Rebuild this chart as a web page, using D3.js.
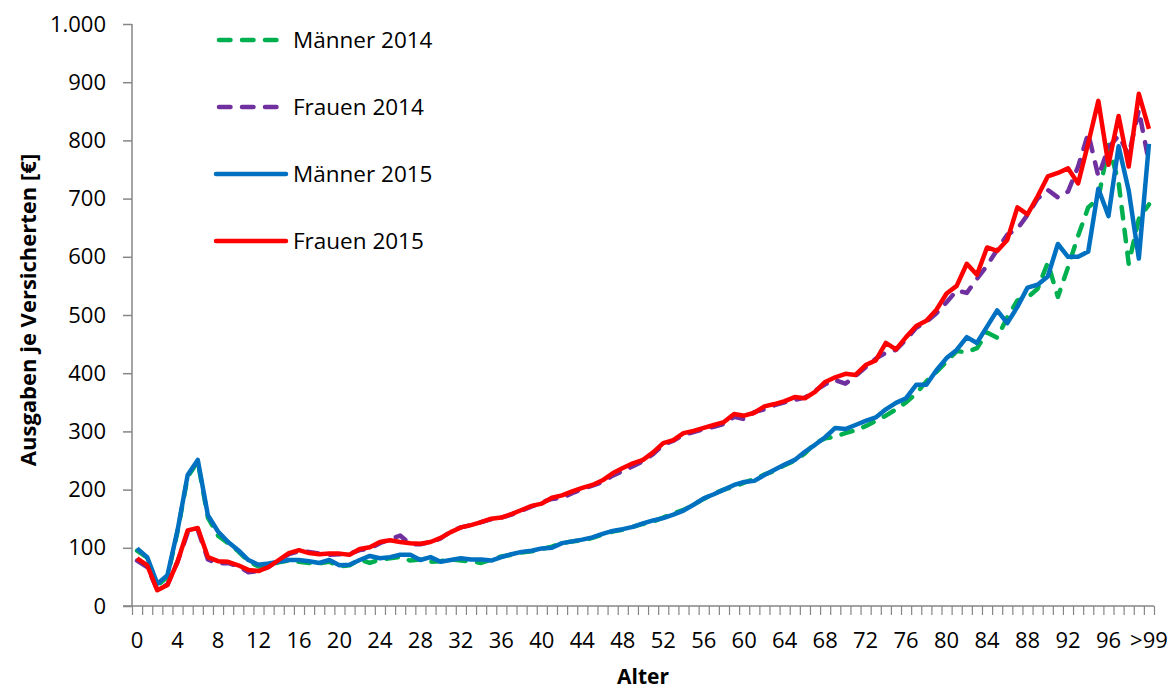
<!DOCTYPE html>
<html>
<head>
<meta charset="utf-8">
<script src="https://cdn.jsdelivr.net/npm/d3@7"></script>
<style>
  body { margin: 0; background: #fff; }
  svg { display: block; font-family: "Open Sans", sans-serif; }
</style>
</head>
<body>
<svg width="1170" height="690"></svg>
<script>
// categories: age 0..99 and ">99"
const ages = d3.range(100).map(String).concat([">99"]);
const yTicks = d3.range(0, 1001, 100);

const maenner2014 = [95,83,35,50,128,222,248,152,121,108,94,77,68,71,75,78,76,74,73,76,
  68,70,80,74,80,82,84,78,80,76,77,80,78,77,74,80,85,88,92,94,
  98,102,108,111,113,117,123,128,131,136,141,145,152,159,165,174,184,193,200,205,
  212,218,226,232,242,250,262,280,288,291,297,302,309,318,327,338,350,365,386,402,
  420,438,436,443,470,461,496,525,530,545,590,531,582,636,685,700,792,728,588,665,690];

const frauen2014 = [78,67,28,37,76,126,131,80,73,74,68,58,60,67,79,89,94,93,90,88,
  89,90,96,99,108,115,121,106,106,110,116,128,135,139,144,149,152,157,164,171,
  178,184,186,194,201,207,213,224,232,240,249,261,277,284,294,299,304,308,313,325,
  321,333,338,345,350,354,358,370,381,388,382,395,410,425,435,440,458,478,488,503,
  522,542,538,562,585,612,638,648,672,700,715,702,712,755,812,738,788,808,775,852,762];

const maenner2015 = [99,84,38,53,130,225,251,156,128,110,96,79,71,73,76,79,79,77,74,79,
  70,71,79,86,82,84,88,88,79,84,76,79,82,80,80,78,84,89,93,95,
  99,100,108,111,114,118,124,129,132,136,142,147,151,157,164,174,185,192,200,208,
  213,215,225,234,243,251,265,277,290,306,304,311,318,324,338,349,357,380,380,405,
  426,440,462,452,480,508,486,514,547,552,566,622,600,600,609,717,670,790,714,597,794];

const frauen2015 = [82,70,27,36,76,130,134,84,77,76,70,62,60,67,79,91,96,91,89,90,
  90,88,98,101,110,113,110,108,107,110,117,127,135,139,144,150,152,158,165,172,
  176,186,190,197,203,208,216,228,237,245,251,264,280,285,297,301,306,311,316,330,
  327,332,343,347,352,359,357,368,385,393,399,397,414,422,452,441,462,481,490,509,
  537,550,588,569,616,610,629,685,673,704,738,744,752,726,795,868,758,842,755,880,820];

const series = [
  { name: "Männer 2014", values: maenner2014, color: "#00B050", dash: "11.5,11.5" },
  { name: "Frauen 2014", values: frauen2014, color: "#7030A0", dash: "11.5,11.5" },
  { name: "Männer 2015", values: maenner2015, color: "#0070C0", dash: null },
  { name: "Frauen 2015", values: frauen2015, color: "#FF0000", dash: null }
];

const svg = d3.select("svg");
const plotLeft = 132, plotRight = 1154, plotTop = 24, plotBottom = 606;
const axisColor = "#868686";

const x = d3.scaleBand().domain(ages).range([plotLeft, plotRight]).padding(0);
const xEdge = d3.scaleLinear().domain([0, ages.length]).range([plotLeft, plotRight]);
const y = d3.scaleLinear().domain([0, 1000]).range([plotBottom, plotTop]);

const de = d3.formatLocale({ decimal: ",", thousands: ".", grouping: [3], currency: ["", "€"] });
const fmt = de.format(",");

// y axis
const gy = svg.append("g")
  .attr("transform", `translate(${plotLeft},0)`)
  .call(d3.axisLeft(y).tickValues(yTicks).tickFormat(fmt).tickSize(9).tickPadding(17));
gy.select(".domain").attr("stroke", axisColor).attr("stroke-width", 1.5)
  .attr("d", `M0,${plotTop}V${plotBottom}`);
gy.selectAll(".tick line").attr("stroke", axisColor).attr("stroke-width", 1.5);
gy.selectAll(".tick text").attr("font-size", 22).attr("fill", "#000")
  .attr("font-family", "Open Sans");

// x axis: tick marks between categories
const gxTicks = svg.append("g")
  .attr("transform", `translate(0,${plotBottom})`)
  .call(d3.axisBottom(xEdge).tickValues(d3.range(ages.length + 1)).tickFormat("").tickSize(9));
gxTicks.select(".domain").attr("stroke", axisColor).attr("stroke-width", 1.5)
  .attr("d", `M${plotLeft - 9},0H${plotRight}`);
gxTicks.selectAll(".tick line").attr("stroke", axisColor).attr("stroke-width", 1.2);

// x axis: labels every 4 years
const gx = svg.append("g")
  .attr("transform", `translate(0,${plotBottom})`)
  .call(d3.axisBottom(x).tickValues(ages.filter((d, i) => i % 4 === 0)).tickSize(0).tickPadding(26));
gx.select(".domain").remove();
gx.selectAll(".tick text").attr("font-size", 22).attr("fill", "#000")
  .attr("font-family", "Open Sans");

// lines
const line = d3.line()
  .x((d, i) => x(ages[i]) + x.bandwidth() / 2)
  .y(d => y(d));

series.forEach(s => {
  svg.append("path")
    .datum(s.values)
    .attr("fill", "none")
    .attr("stroke", s.color)
    .attr("stroke-width", 4.5)
    .attr("stroke-linejoin", "round")
    .attr("stroke-linecap", s.dash ? "round" : "butt")
    .attr("stroke-dasharray", s.dash)
    .attr("d", line);
});

// legend
const legend = svg.append("g");
series.forEach((s, i) => {
  const ly = 40 + i * 67;
  legend.append("line")
    .attr("x1", s.dash ? 219 : 216).attr("x2", s.dash ? 277 : 286)
    .attr("y1", ly).attr("y2", ly)
    .attr("stroke", s.color).attr("stroke-width", 4.5)
    .attr("stroke-linecap", "round")
    .attr("stroke-dasharray", s.dash);
  legend.append("text")
    .attr("x", 293).attr("y", ly + 8)
    .attr("font-size", 22.5)
    .attr("fill", "#000")
    .text(s.name);
});

// axis titles
svg.append("text")
  .attr("transform", "translate(36,310) rotate(-90)")
  .attr("text-anchor", "middle")
  .attr("font-size", 22)
  .attr("font-weight", "bold")
  .text("Ausgaben je Versicherten [€]");

svg.append("text")
  .attr("x", (plotLeft + plotRight) / 2)
  .attr("y", 684)
  .attr("text-anchor", "middle")
  .attr("font-size", 21)
  .attr("font-weight", "bold")
  .text("Alter");
</script>
</body>
</html>
